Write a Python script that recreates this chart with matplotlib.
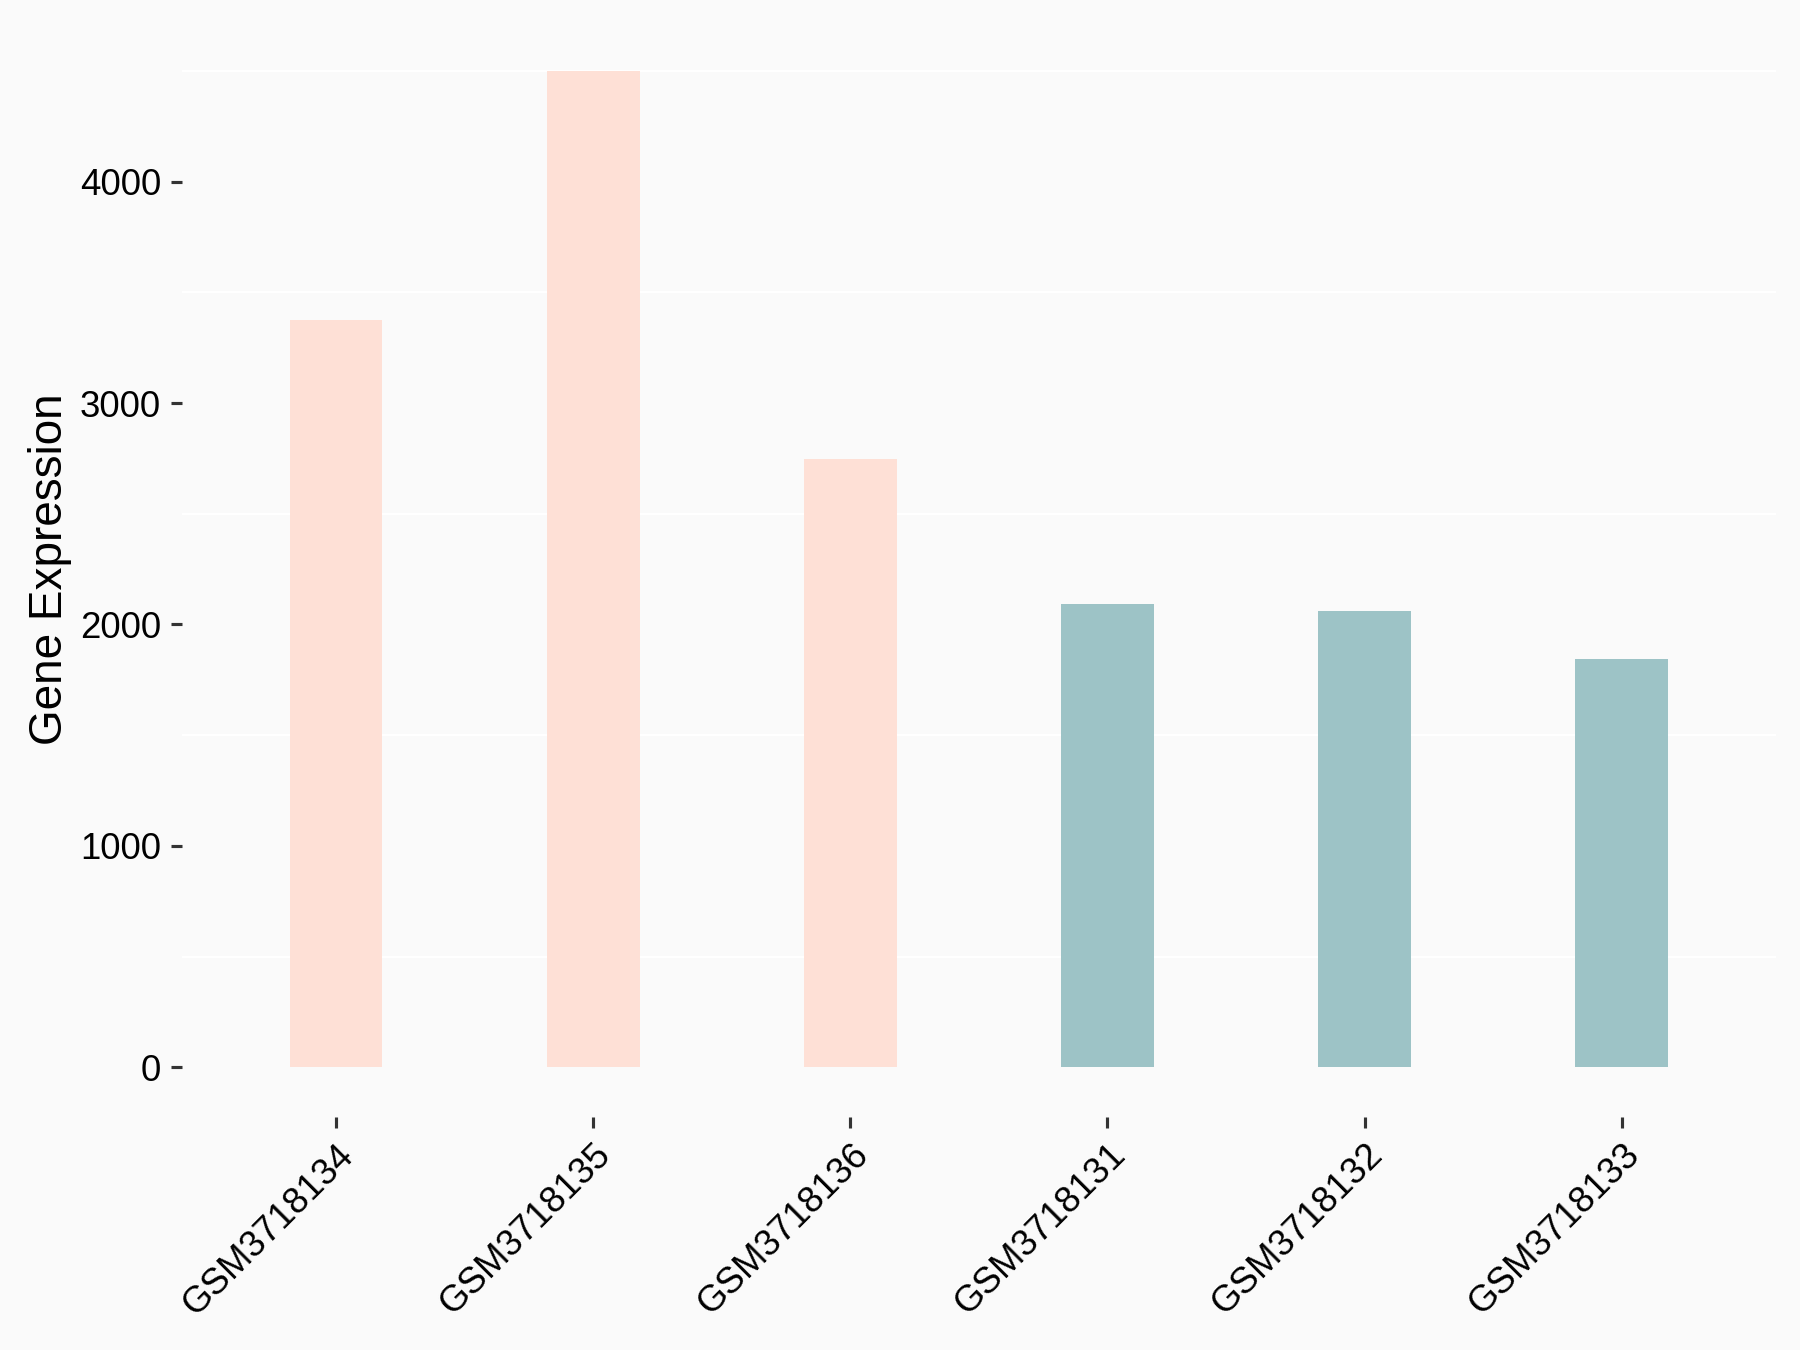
import matplotlib
matplotlib.use("Agg")
import matplotlib.pyplot as plt
import numpy as np

samples = ["GSM3718134", "GSM3718135", "GSM3718136", "GSM3718131", "GSM3718132", "GSM3718133"]
expression = [3377, 4498, 2749, 2094, 2062, 1845]
groups = ["A", "A", "A", "B", "B", "B"]
group_colors = {"A": "#FEE0D6", "B": "#9DC3C6"}
yticks = [0, 1000, 2000, 3000, 4000]
minor_grid = [500, 1500, 2500, 3500, 4500]

plt.rcParams["font.family"] = ["Liberation Sans", "DejaVu Sans"]

bg = "#FAFAFA"
fig = plt.figure(figsize=(6, 4.5), dpi=300, facecolor=bg)
ax = fig.add_axes([0.101, 0.1726, 0.8857, 0.8114])
ax.set_facecolor(bg)

x = np.arange(1, len(samples) + 1)
ymax = max(expression)
ax.set_xlim(0.4, len(samples) + 0.6)
ax.set_ylim(-0.05 * ymax, ymax * 1.05)

for g in minor_grid:
    ax.axhline(g, color="white", linewidth=0.5, zorder=0)

ax.bar(x, expression, width=0.36, color=[group_colors[g] for g in groups], zorder=2)

for s in ax.spines.values():
    s.set_visible(False)

ax.set_yticks(yticks)
ax.set_yticklabels([str(v) for v in yticks])
ax.set_xticks(x)
ax.set_xticklabels(samples, rotation=45, ha="right", va="top", rotation_mode="anchor")
ax.tick_params(axis="both", length=2.75, width=0.75, color="#333333",
               labelsize=8.8, labelcolor="black", pad=2.2)
ax.set_ylabel("Gene Expression", fontsize=11, labelpad=2)

fig.savefig("out.png", dpi=300, facecolor=bg)
